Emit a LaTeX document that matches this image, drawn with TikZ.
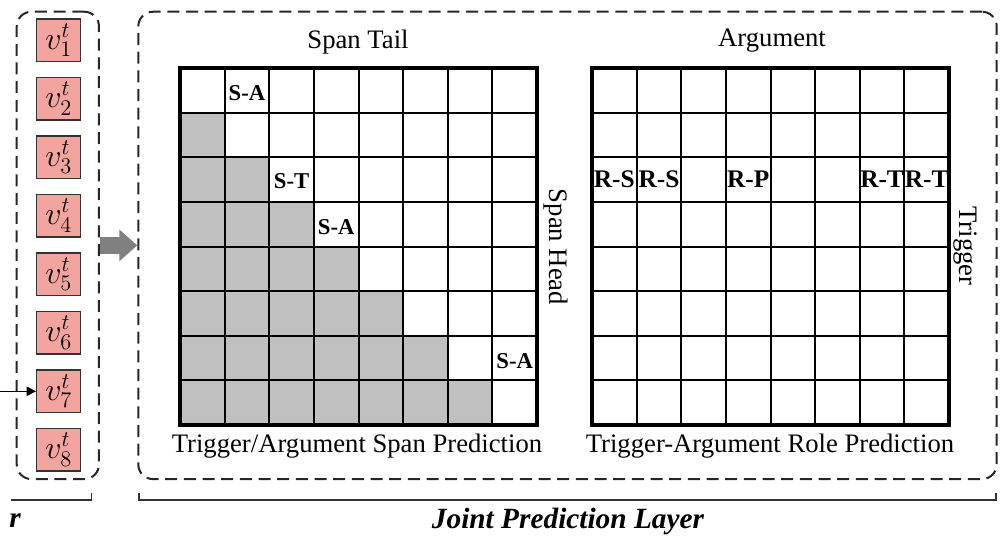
\RequirePackage{fix-cm}
\documentclass[tikz,border=0pt]{standalone}
\usepackage{fontspec}
\setmainfont{Liberation Serif}
\usetikzlibrary{arrows.meta,calc}
\definecolor{vfill}{RGB}{244,164,158}
\definecolor{cellgray}{RGB}{192,192,192}
\definecolor{arrowgray}{RGB}{128,128,128}
\begin{document}
\begin{tikzpicture}[x=0.75pt,y=-0.75pt,
 vbox/.style={draw=black!80,line width=1.1pt,fill=vfill,minimum width=33pt,minimum height=32pt,inner sep=0pt,font=\fontsize{24}{26}\selectfont},
 dbox/.style={draw=black!85,line width=1.5pt,dash pattern=on 9pt off 5pt,rounded corners=11pt,inner sep=0pt},
 lbl/.style={font=\fontsize{20}{24}\selectfont,inner sep=0pt},
 slbl/.style={font=\fontsize{17}{20}\selectfont\bfseries,inner sep=0pt},
 rlbl/.style={font=\fontsize{19}{22}\selectfont\bfseries,inner sep=0pt},
 ttl/.style={font=\fontsize{22}{26}\selectfont\bfseries\itshape,inner sep=0pt},
 brk/.style={draw=black!80,line width=1.1pt},
 inner/.style={line width=1.5pt},
 outer/.style={line width=3pt},
]
\useasboundingbox (0,0) rectangle (1000,537);

% dashed containers
\node[dbox,minimum width=61.7pt,minimum height=350.5pt] (lbox) at (57.85,245.4) {};
\node[dbox,minimum width=643.8pt,minimum height=350.5pt] (rbox) at (567.5,245.4) {};

% token nodes
\foreach \i in {1,...,8}
  \node[vbox] (v\i) at (58.7,{40.3+58.5*(\i-1)}) {$v_{\i}^{t}$};

% input arrow into v7
\coordinate (in7) at (0,391.3);
\draw[line width=1.1pt,-{Triangle[length=7pt,width=7pt]}] (in7) -- (v7.west);

% big gray arrow
\draw[line width=13pt,draw=arrowgray,-{Triangle[length=13.5pt,width=23pt]}] (lbox.east) -- (rbox.west);

% left grid: shading
\foreach \r in {1,...,7}{
  \pgfmathtruncatemacro\cmax{\r-1}
  \foreach \c in {0,...,\cmax}
    \fill[cellgray] ({180+44.625*\c},{68+44.625*\r}) rectangle +(44.625,44.625);
}
% grid lines
\foreach \gx in {180,592}{
  \foreach \k in {1,...,7}{
    \draw[inner] ({\gx+44.625*\k},68) -- +(0,357);
    \draw[inner] (\gx,{68+44.625*\k}) -- +(357,0);
  }
  \draw[outer] (\gx,68) rectangle +(357,357);
}

% cell labels, span grid
\node[slbl] (sa1) at ({180+44.625*1.5},{68+44.625*0.5+3}) {S-A};
\node[slbl] (st2) at ({180+44.625*2.5},{68+44.625*2.5+2}) {S-T};
\node[slbl] (sa3) at ({180+44.625*3.5},{68+44.625*3.5+3}) {S-A};
\node[slbl] (sa7) at ({180+44.625*7.5},{68+44.625*6.5+3}) {S-A};

% cell labels, role grid
\node[rlbl] (rs0) at ({592+44.625*0.5},{68+44.625*2.5}) {R-S};
\node[rlbl] (rs1) at ({592+44.625*1.5},{68+44.625*2.5}) {R-S};
\node[rlbl] (rp3) at ({592+44.625*3.5},{68+44.625*2.5}) {R-P};
\node[rlbl] (rt6) at ({592+44.625*6.5},{68+44.625*2.5}) {R-T};
\node[rlbl] (rt7) at ({592+44.625*7.5},{68+44.625*2.5}) {R-T};

% axis labels
\node[lbl] (spantail) at (358,42) {Span Tail};
\node[lbl] (argument) at (772,41) {Argument};
\node[lbl,rotate=-90] (spanhead) at (556,247) {Span Head};
\node[lbl,rotate=-90] (trigger) at (965,246) {Trigger};
\node[lbl] (cap1) at (357,446) {Trigger/Argument Span Prediction};
\node[lbl] (cap2) at (770,446) {Trigger-Argument Role Prediction};

% brackets
\draw[brk] (11,500) -- (91.7,500) -- (91.7,493);
\draw[brk] (139,493) -- (139,500) -- (996,500) -- (996,493);

% bottom titles
\node[ttl,anchor=east] (enc) at (21,521) {r};
\node[ttl] (joint) at (568,521) {Joint Prediction Layer};
\end{tikzpicture}
\end{document}
